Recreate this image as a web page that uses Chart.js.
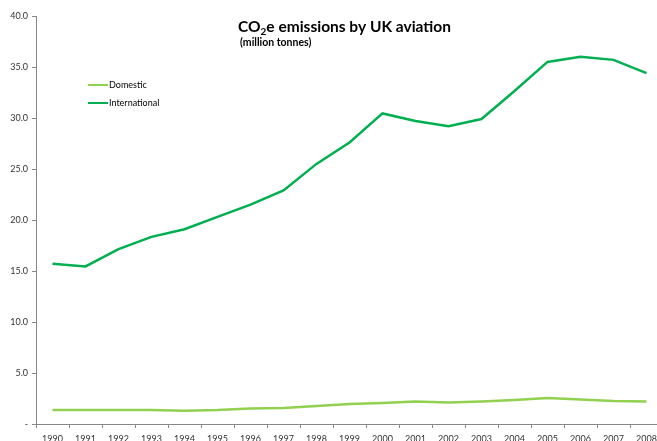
<!DOCTYPE html>
<html>
<head>
<meta charset="utf-8">
<script src="https://cdn.jsdelivr.net/npm/chart.js@4/dist/chart.umd.min.js"></script>
<style>
  html, body { margin: 0; padding: 0; background: #fff; overflow: hidden; }
  #chart { position: absolute; left: 0; top: 0; }
</style>
</head>
<body>
<canvas id="chart" width="680" height="441"></canvas>
<script>
const years = ["1990", "1991", "1992", "1993", "1994", "1995", "1996", "1997", "1998", "1999",
  "2000", "2001", "2002", "2003", "2004", "2005", "2006", "2007", "2008"];
const domestic = [1.37, 1.37, 1.37, 1.37, 1.3, 1.37, 1.52, 1.57, 1.76, 1.96,
  2.06, 2.2, 2.1, 2.2, 2.35, 2.55, 2.4, 2.25, 2.2];
const international = [15.7, 15.45, 17.15, 18.35, 19.1, 20.3, 21.5, 22.9, 25.5, 27.6,
  30.45, 29.7, 29.2, 29.9, 32.65, 35.5, 36.0, 35.7, 34.4];

const FONT = "Lato, 'Open Sans', sans-serif";

// title with the subscript 2, plus the units line underneath
const titlePlugin = {
  id: "titleText",
  afterDraw: (chart) => {
    const ctx = chart.ctx;
    ctx.save();
    ctx.fillStyle = "#000";
    ctx.textBaseline = "alphabetic";
    let x = 238;
    const y = 32;
    ctx.font = "bold 15.5px " + FONT;
    ctx.fillText("CO", x, y);
    x += ctx.measureText("CO").width;
    ctx.font = "bold 10px " + FONT;
    ctx.fillText("2", x, y + 3);
    x += ctx.measureText("2").width;
    ctx.font = "bold 15.5px " + FONT;
    ctx.fillText("e emissions by UK aviation", x, y);
    ctx.font = "bold 10.5px " + FONT;
    ctx.fillText("(million tonnes)", 240, 46);
    ctx.restore();
  },
};

// small legend inside the plot, upper left
const legendPlugin = {
  id: "insideLegend",
  afterDraw: (chart) => {
    const ctx = chart.ctx;
    ctx.save();
    ctx.font = "9px " + FONT;
    ctx.textBaseline = "middle";
    chart.data.datasets.forEach((ds, i) => {
      const y = 85 + i * 18;
      ctx.strokeStyle = ds.borderColor;
      ctx.lineWidth = 2;
      ctx.beginPath();
      ctx.moveTo(88, y);
      ctx.lineTo(108, y);
      ctx.stroke();
      ctx.fillStyle = "#000";
      ctx.fillText(ds.label, 109, y);
    });
    ctx.restore();
  },
};

const generateChart = () => {
  const ctx = document.getElementById("chart").getContext("2d");
  new Chart(ctx, {
    type: "line",
    data: {
      labels: years,
      datasets: [
        {
          label: "Domestic",
          data: domestic,
          borderColor: "rgb(146, 208, 80)",
          borderWidth: 2.5,
          pointRadius: 0,
          fill: false,
          tension: 0,
        },
        {
          label: "International",
          data: international,
          borderColor: "rgb(0, 176, 80)",
          borderWidth: 2.5,
          pointRadius: 0,
          fill: false,
          tension: 0,
        },
      ],
    },
    options: {
      responsive: false,
      animation: false,
      layout: { padding: { top: 16, right: 17, left: 0, bottom: 0 } },
      plugins: {
        legend: { display: false },
        tooltip: { enabled: false },
      },
      scales: {
        x: {
          offset: true,
          grid: {
            offset: true,
            drawOnChartArea: false,
            drawTicks: true,
            tickLength: 4,
            color: "#888",
          },
          border: { color: "#888", width: 1 },
          ticks: {
            color: "#333",
            font: { family: FONT, size: 9 },
            padding: 6,
            maxRotation: 0,
            autoSkip: false,
          },
          afterFit: (scale) => { scale.height = 17; },
        },
        y: {
          min: 0,
          max: 40,
          grid: {
            drawOnChartArea: false,
            drawTicks: true,
            tickLength: 4,
            color: "#888",
          },
          border: { color: "#888", width: 1 },
          ticks: {
            stepSize: 5,
            color: "#333",
            font: { family: FONT, size: 9 },
            padding: 4,
            callback: (v) => (v === 0 ? "-" : v.toFixed(1)),
          },
          afterFit: (scale) => { scale.width = 36; },
        },
      },
    },
    plugins: [titlePlugin, legendPlugin],
  });
};

generateChart();
</script>
</body>
</html>
